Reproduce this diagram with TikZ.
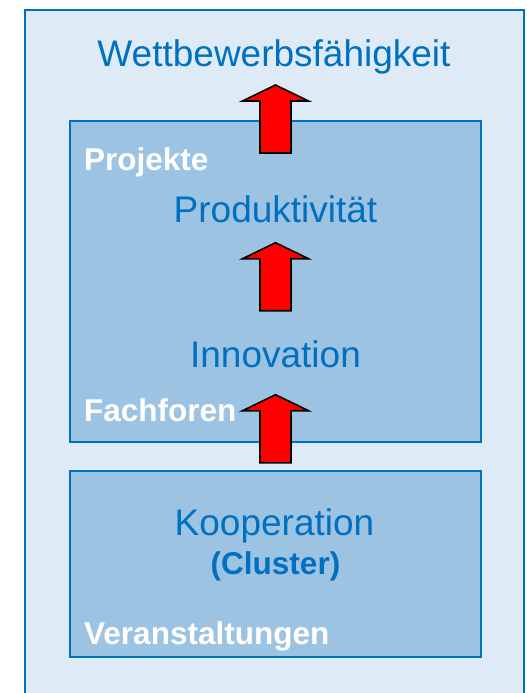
\documentclass[tikz,border=0pt]{standalone}
\usepackage{fontspec}
\setmainfont{Liberation Sans}
\usepackage{tikz}
\definecolor{outerfill}{RGB}{222,235,246}
\definecolor{innerfill}{RGB}{157,195,227}
\definecolor{kblue}{RGB}{0,112,192}
\begin{document}
\begin{tikzpicture}[x=1pt,y=-1pt,
    bigtext/.style={text=kblue,inner sep=0pt,anchor=base,font=\fontsize{37}{40}\selectfont},
    whitelabel/.style={text=white,inner sep=0pt,anchor=base west,font=\bfseries\fontsize{31.5}{34}\selectfont},
    bigarrow/.style={draw=black,line width=1.6pt,fill=red,line join=miter}]
      \useasboundingbox (0,0) rectangle (527,693);
      \clip (0,0) rectangle (527,693);
      % the frame
      \draw[fill=outerfill,draw=kblue,line width=2.4pt] (25,10) rectangle (524,720);
      %% the two boxes
      \draw[fill=innerfill,draw=kblue,line width=1.8pt] (70,121) rectangle (481,442);
      \draw[fill=innerfill,draw=kblue,line width=1.8pt] (70,471) rectangle (481,657);
      % texts
      \node[bigtext] (title) at (274,66.7) {Wettbewerbsfähigkeit};
      \node[bigtext] (prod) at (275.5,222.3) {Produktivität};
      \node[bigtext] (inno) at (275.5,367.7) {Innovation};
      \node[bigtext] (koop) at (274.5,535.7) {Kooperation};
      \node[text=kblue,inner sep=0pt,anchor=base,font=\bfseries\fontsize{31.5}{34}\selectfont] (clus) at (275.5,574.5) {(Cluster)};
      \node[whitelabel] (proj) at (84,170) {Projekte};
      \node[whitelabel] (fach) at (84,421.7) {Fachforen};
      \node[whitelabel] (vera) at (84,644) {Veranstaltungen};
      %% the arrows, bottom end of each
      \foreach \y in {153,310.7,462.7}
      {
        \draw[bigarrow] (260,\y) -- ++(0,-52) -- ++(-17.5,0) -- ++(33,-16)
          -- ++(33,16) -- ++(-17.5,0) -- ++(0,52) -- cycle;
      }
    \end{tikzpicture}
\end{document}
